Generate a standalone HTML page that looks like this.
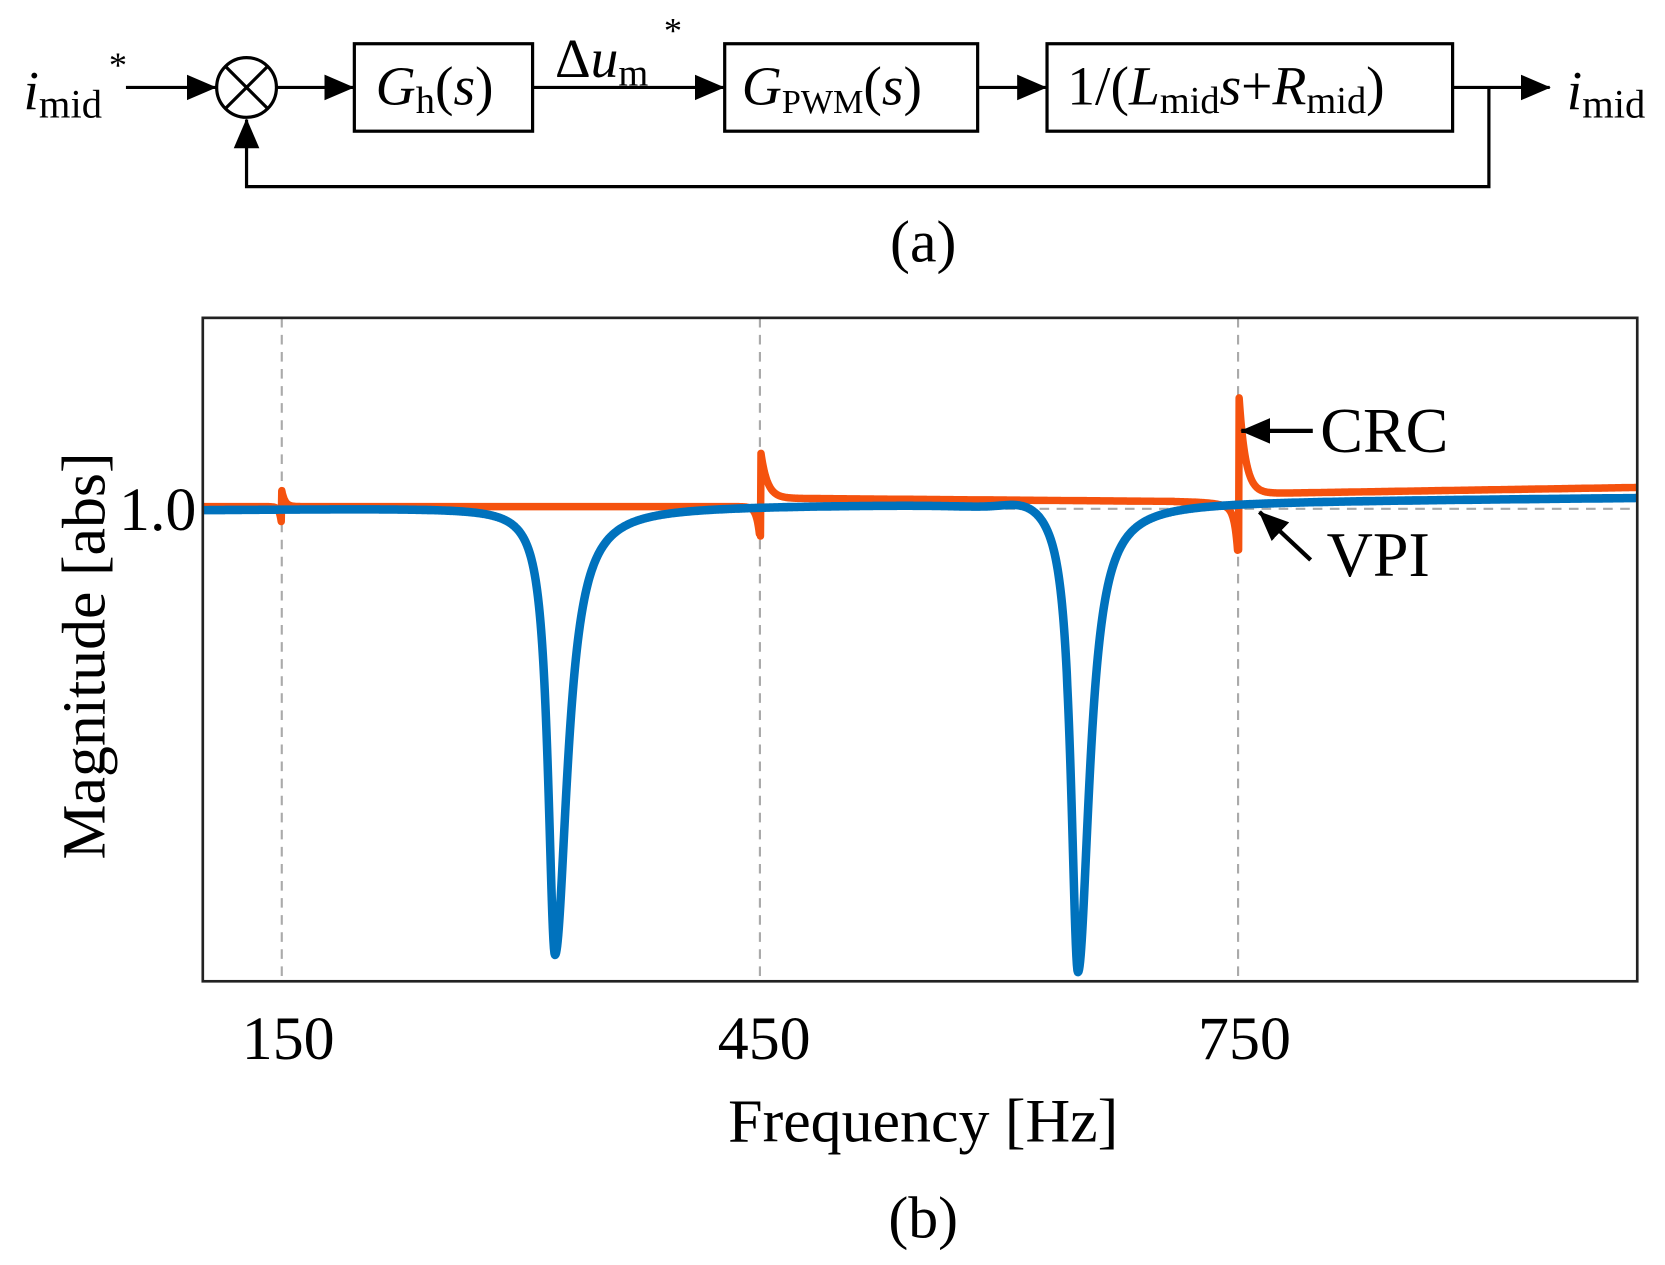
<!DOCTYPE html>
<html><head><meta charset="utf-8"><style>
html,body{margin:0;padding:0;background:#fff;}
svg{display:block;}
text{font-family:"Liberation Serif",serif;fill:#000;}
</style></head><body>
<svg id="s" width="1665" height="1265" viewBox="0 0 1560 1186" preserveAspectRatio="none" xmlns="http://www.w3.org/2000/svg">
<defs>
<marker id="ah2" markerWidth="28" markerHeight="24" refX="27" refY="12" orient="auto" markerUnits="userSpaceOnUse" viewBox="0 0 28 24"><path d="M0,0 L28,12 L0,24 z" fill="#000"/></marker></defs>
<g stroke="#000" stroke-width="3" fill="none">
<line x1="118" y1="82" x2="202" y2="82" marker-end="url(#ah2)"/>
<circle cx="231" cy="82" r="28"/>
<line x1="211" y1="62" x2="251" y2="102"/><line x1="251" y1="62" x2="211" y2="102"/>
<line x1="259" y1="82" x2="331" y2="82" marker-end="url(#ah2)"/>
<rect x="332" y="41" width="167" height="82"/>
<line x1="499" y1="82" x2="678" y2="82" marker-end="url(#ah2)"/>
<rect x="679" y="41" width="237" height="82"/>
<line x1="916" y1="82" x2="980" y2="82" marker-end="url(#ah2)"/>
<rect x="981" y="41" width="380" height="82"/>
<line x1="1361" y1="82" x2="1452" y2="82" marker-end="url(#ah2)"/>
<polyline points="1395,82 1395,175 231,175 231,112" marker-end="url(#ah2)"/>
</g>
<text x="22" y="102" font-size="52"><tspan font-style="italic">i</tspan><tspan font-size="38" dy="8">mid</tspan></text><text x="102" y="72" font-size="34">*</text>
<text x="352" y="98" font-size="52"><tspan font-style="italic">G</tspan><tspan font-size="36" dy="8">h</tspan><tspan dy="-8">(</tspan><tspan font-style="italic">s</tspan>)</text>
<text x="520" y="72" font-size="52">Δ<tspan font-style="italic">u</tspan><tspan font-size="36" dy="8">m</tspan></text><text x="622" y="40" font-size="34">*</text>
<text x="695" y="98" font-size="52"><tspan font-style="italic">G</tspan><tspan font-size="32" dy="8">PWM</tspan><tspan dy="-8">(</tspan><tspan font-style="italic">s</tspan>)</text>
<text x="1000" y="98" font-size="52">1/(<tspan font-style="italic">L</tspan><tspan font-size="36" dy="8">mid</tspan><tspan dy="-8" font-style="italic">s</tspan>+<tspan font-style="italic">R</tspan><tspan font-size="36" dy="8">mid</tspan><tspan dy="-8">)</tspan></text>
<text x="1468" y="102" font-size="52"><tspan font-style="italic">i</tspan><tspan font-size="38" dy="8">mid</tspan></text>
<text x="865" y="245" font-size="56" text-anchor="middle">(a)</text>
<g stroke="#aaa" stroke-width="2" stroke-dasharray="9,7">
<line x1="264" y1="298" x2="264" y2="920"/><line x1="712" y1="298" x2="712" y2="920"/><line x1="1160" y1="298" x2="1160" y2="920"/>
<line x1="190" y1="477" x2="1534" y2="477"/></g>
<path id="or" fill="none" stroke="#F5520E" stroke-width="7" stroke-linejoin="round"/>
<path id="bl" fill="none" stroke="#0072BD" stroke-width="8" stroke-linejoin="round"/>
<rect x="190" y="298" width="1344" height="622" fill="none" stroke="#222" stroke-width="2.5"/>
<text x="270" y="993" font-size="58" text-anchor="middle">150</text>
<text x="716" y="993" font-size="58" text-anchor="middle">450</text>
<text x="1166" y="993" font-size="58" text-anchor="middle">750</text>
<text x="184" y="497" font-size="58" text-anchor="end">1.0</text>
<text transform="translate(98,615) rotate(-90)" font-size="58" text-anchor="middle">Magnitude [abs]</text>
<text x="865" y="1070" font-size="58" text-anchor="middle">Frequency [Hz]</text>
<text x="865" y="1160" font-size="56" text-anchor="middle">(b)</text>
<line x1="1230" y1="404" x2="1163" y2="404" stroke="#000" stroke-width="4" marker-end="url(#ah2)"/>
<text x="1237" y="424" font-size="60">CRC</text>
<line x1="1228" y1="525" x2="1180" y2="480" stroke="#000" stroke-width="4" marker-end="url(#ah2)"/>
<text x="1243" y="540" font-size="60">VPI</text>
</svg>
<script>
function lor(x,x0,g){return g*g/((x-x0)*(x-x0)+g*g);}
function notch(x,x0,d,gl,gr){var g=x<x0?gl:gr;return d*lor(x,x0,g);}
var b="",o="";
for(var x=190;x<=1534;x+=0.5){
 var yb=478-(x-190)*0.0085;
 if(x>880&&x<1000){yb-=8*Math.exp(-Math.pow((x-965)/30,2));}
 yb+=notch(x,520,420,8,14)+notch(x,1010,440,8,13);
 b+=(x==190?"M":"L")+x+","+yb.toFixed(1)+" ";
}
function disp(x,x0,up,dn,tu,td){
 if(x>=x0) return -up*Math.exp(-(x-x0)/tu);
 return dn*Math.exp(-(x0-x)/td);
}
for(var x=190;x<=1534;x+=0.5){
 var base;
 if(x<712) base=475;
 else if(x<1160) base=467+(x-712)*0.008;
 else base=463-(x-1160)*0.016;
 var y=base+disp(x,264,15,18,3,2)+disp(x,713,42,42,6,3)+disp(x,1161,90,62,6,3);
 if(x<1160&&x>1100) y+=8*Math.exp(-(1160-x)/15);
 o+=(x==190?"M":"L")+x+","+y.toFixed(1)+" ";
}
document.getElementById("bl").setAttribute("d",b);
document.getElementById("or").setAttribute("d",o);
</script>
</body></html>
